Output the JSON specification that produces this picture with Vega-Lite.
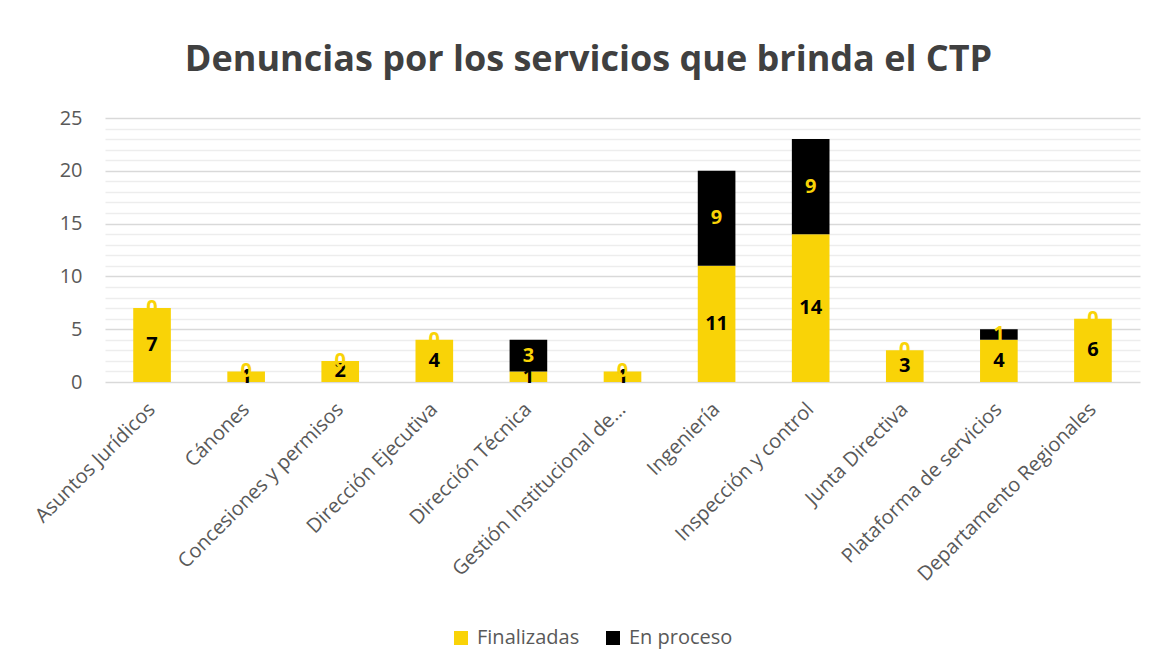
{
  "$schema": "https://vega.github.io/schema/vega-lite/v6.json",
  "autosize": "none",
  "width": 1035,
  "height": 264,
  "padding": {"left": 105, "top": 118, "right": 16, "bottom": 287},
  "background": "white",
  "title": {
    "text": "Denuncias por los servicios que brinda el CTP",
    "fontSize": 36,
    "font": "Open Sans",
    "fontWeight": "bold",
    "color": "#404040",
    "anchor": "middle",
    "dx": -34,
    "offset": 29
  },
  "config": {
    "font": "Open Sans",
    "view": {"stroke": null}
  },
  "data": {
    "values": [
      {"servicio": "Asuntos Jurídicos", "estado": "Finalizadas", "valor": 7},
      {"servicio": "Asuntos Jurídicos", "estado": "En proceso", "valor": 0},
      {"servicio": "Cánones", "estado": "Finalizadas", "valor": 1},
      {"servicio": "Cánones", "estado": "En proceso", "valor": 0},
      {"servicio": "Concesiones y permisos", "estado": "Finalizadas", "valor": 2},
      {"servicio": "Concesiones y permisos", "estado": "En proceso", "valor": 0},
      {"servicio": "Dirección Ejecutiva", "estado": "Finalizadas", "valor": 4},
      {"servicio": "Dirección Ejecutiva", "estado": "En proceso", "valor": 0},
      {"servicio": "Dirección Técnica", "estado": "Finalizadas", "valor": 1},
      {"servicio": "Dirección Técnica", "estado": "En proceso", "valor": 3},
      {"servicio": "Gestión Institucional de…", "estado": "Finalizadas", "valor": 1},
      {"servicio": "Gestión Institucional de…", "estado": "En proceso", "valor": 0},
      {"servicio": "Ingeniería", "estado": "Finalizadas", "valor": 11},
      {"servicio": "Ingeniería", "estado": "En proceso", "valor": 9},
      {"servicio": "Inspección y control", "estado": "Finalizadas", "valor": 14},
      {"servicio": "Inspección y control", "estado": "En proceso", "valor": 9},
      {"servicio": "Junta Directiva", "estado": "Finalizadas", "valor": 3},
      {"servicio": "Junta Directiva", "estado": "En proceso", "valor": 0},
      {"servicio": "Plataforma de servicios", "estado": "Finalizadas", "valor": 4},
      {"servicio": "Plataforma de servicios", "estado": "En proceso", "valor": 1},
      {"servicio": "Departamento Regionales", "estado": "Finalizadas", "valor": 6},
      {"servicio": "Departamento Regionales", "estado": "En proceso", "valor": 0}
    ]
  },
  "transform": [
    {"stack": "valor", "groupby": ["servicio"], "sort": [{"field": "estado", "order": "descending"}], "as": ["v0", "v1"]},
    {"calculate": "(datum.v0 + datum.v1) / 2", "as": "vmid"}
  ],
  "encoding": {
    "x": {
      "field": "servicio",
      "type": "nominal",
      "sort": null,
      "scale": {"paddingInner": 0.6, "paddingOuter": 0.3},
      "axis": {
        "title": null,
        "labelAngle": -45,
        "labelFontSize": 20,
        "labelColor": "#595959",
        "labelAlign": "right",
        "labelBaseline": "middle",
        "labelPadding": 24,
        "ticks": false,
        "domain": false,
        "labelLimit": 400
      }
    }
  },
  "layer": [
    {
      "mark": {"type": "bar"},
      "encoding": {
        "y": {
          "field": "v0",
          "type": "quantitative",
          "scale": {"domain": [0, 25], "nice": false},
          "axis": {
            "title": null,
            "values": [0,1,2,3,4,5,6,7,8,9,10,11,12,13,14,15,16,17,18,19,20,21,22,23,24,25],
            "labelExpr": "datum.value % 5 === 0 ? datum.label : ''",
            "labelFontSize": 20,
            "labelColor": "#595959",
            "labelPadding": 23,
            "ticks": false,
            "domain": false,
            "grid": true,
            "gridColor": {"condition": {"test": "datum.value % 5 === 0", "value": "#d9d9d9"}, "value": "#ededed"},
            "gridWidth": {"condition": {"test": "datum.value % 5 === 0", "value": 1.5}, "value": 1.3}
          }
        },
        "y2": {"field": "v1"},
        "color": {
          "field": "estado",
          "type": "nominal",
          "scale": {"domain": ["Finalizadas", "En proceso"], "range": ["#F9D307", "#000000"]},
          "legend": {
            "title": null,
            "orient": "none",
            "legendX": 346,
            "legendY": 510,
            "direction": "horizontal",
            "symbolType": "square",
            "symbolSize": 196,
            "symbolStrokeWidth": 0,
            "labelFontSize": 20,
            "labelColor": "#595959",
            "columnPadding": 23,
            "labelOffset": 6
          }
        }
      }
    },
    {
      "mark": {"type": "text", "fontSize": 20, "fontWeight": "bold", "baseline": "middle", "align": "center"},
      "encoding": {
        "y": {
          "field": "vmid",
          "type": "quantitative",
          "scale": {"domain": [0, 25], "nice": false},
          "axis": {
            "title": null,
            "values": [0,1,2,3,4,5,6,7,8,9,10,11,12,13,14,15,16,17,18,19,20,21,22,23,24,25],
            "labelExpr": "datum.value % 5 === 0 ? datum.label : ''",
            "labelFontSize": 20,
            "labelColor": "#595959",
            "labelPadding": 23,
            "ticks": false,
            "domain": false,
            "grid": true,
            "gridColor": {"condition": {"test": "datum.value % 5 === 0", "value": "#d9d9d9"}, "value": "#ededed"},
            "gridWidth": {"condition": {"test": "datum.value % 5 === 0", "value": 1.5}, "value": 1.3}
          }
        },
        "text": {"field": "valor", "type": "quantitative"},
        "fill": {
          "field": "estado",
          "type": "nominal",
          "scale": {"domain": ["Finalizadas", "En proceso"], "range": ["#000000", "#F9D307"]},
          "legend": null
        }
      }
    }
  ],
  "resolve": {"scale": {"fill": "independent"}}
}
